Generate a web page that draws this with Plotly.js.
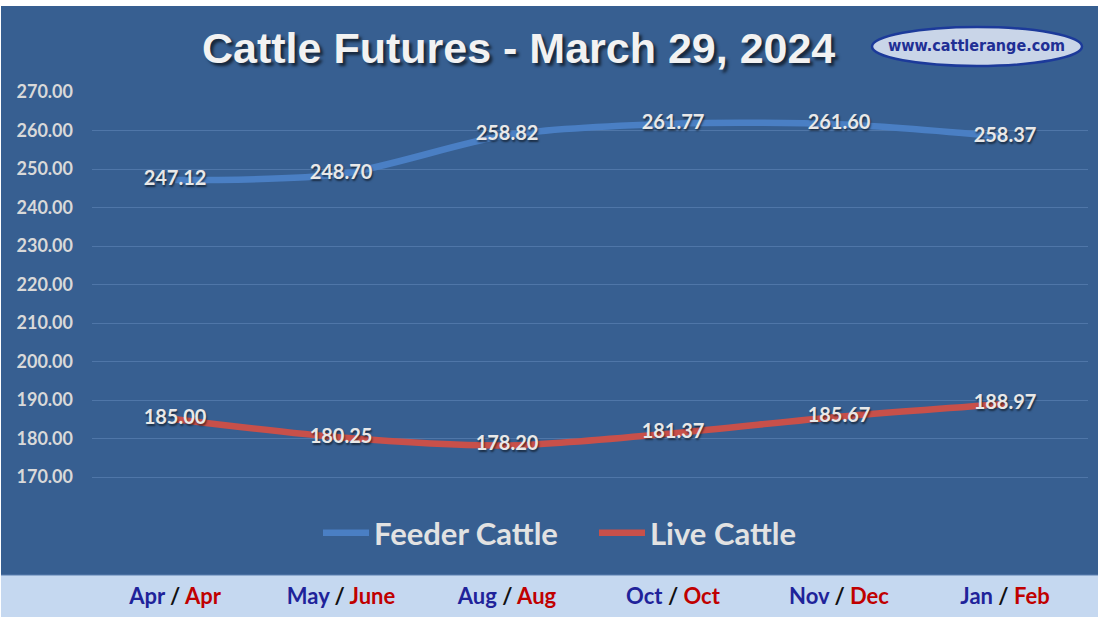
<!DOCTYPE html>
<html>
<head>
<meta charset="utf-8">
<script src="https://cdn.plot.ly/plotly-3.0.1.min.js"></script>
<style>
html,body{margin:0;padding:0;background:#ffffff;}
#chart{width:1104px;height:619px;}
</style>
</head>
<body>
<div id="chart"></div>
<script>
// ---- data ----
const categories = ["Apr / Apr", "May / June", "Aug / Aug", "Oct / Oct", "Nov / Dec", "Jan / Feb"];
const feederMonths = ["Apr", "May", "Aug", "Oct", "Nov", "Jan"];
const liveMonths = ["Apr", "June", "Aug", "Oct", "Dec", "Feb"];
const feederCattle = [247.12, 248.70, 258.82, 261.77, 261.60, 258.37];
const liveCattle = [185.00, 180.25, 178.20, 181.37, 185.67, 188.97];
const yTicks = [170, 180, 190, 200, 210, 220, 230, 240, 250, 260, 270];

// ---- geometry helpers (pixel -> paper) ----
const ML = 92, MR = 16, MT = 92, MB = 44;
const W = 1104, H = 619;
const PW = W - ML - MR, PH = H - MT - MB;
const px = x => (x - ML) / PW;
const py = y => (H - MB - y) / PH;

const tickText = categories.map((c, i) =>
  '<span style="color:#1F239A">' + feederMonths[i] + '</span>' +
  '<span style="color:#111111"> / </span>' +
  '<span style="color:#C00000">' + liveMonths[i] + '</span>');

const labelFont = {family: 'Lato, "Open Sans", sans-serif', size: 20, color: '#E8E8E8', weight: 'bold', shadow: '1px 2px 2px rgba(0,0,0,0.55)'};

const traces = [
  {
    x: categories, y: feederCattle, name: 'Feeder Cattle',
    mode: 'lines+text', type: 'scatter',
    line: {color: '#4A7FC4', width: 6.5, shape: 'spline', smoothing: 0.8},
    text: feederCattle.map(v => v.toFixed(2)),
    textposition: 'middle center', textfont: labelFont,
    hoverinfo: 'x+y'
  },
  {
    x: categories, y: liveCattle, name: 'Live Cattle',
    mode: 'lines+text', type: 'scatter',
    line: {color: '#C8504A', width: 6.5, shape: 'spline', smoothing: 0.8},
    text: liveCattle.map(v => v.toFixed(2)),
    textposition: 'middle center', textfont: labelFont,
    hoverinfo: 'x+y'
  }
];

// y range so that 170 sits at px 477 and 270 at px 92
const unitPx = (477 - 92) / 100;
const yMin = 170 - (H - MB - 477) / unitPx;

const layout = {
  width: W, height: H,
  margin: {l: ML, r: MR, t: MT, b: MB, pad: 0},
  paper_bgcolor: '#ffffff',
  plot_bgcolor: 'rgba(0,0,0,0)',
  showlegend: true,
  legend: {
    orientation: 'h', x: px(318), xanchor: 'left', y: py(533), yanchor: 'middle',
    font: {family: 'Lato, "Open Sans", sans-serif', size: 31, color: '#E2E2E2', weight: 'bold'},
    bgcolor: 'rgba(0,0,0,0)', itemwidth: 46, tracegroupgap: 0,
    entrywidth: 215, entrywidthmode: 'pixels'
  },
  xaxis: {
    type: 'category', range: [-0.5, 5.5],
    tickvals: categories, ticktext: tickText,
    showgrid: false, zeroline: false, showline: false, ticks: '',
    tickfont: {family: 'Lato, "Open Sans", sans-serif', size: 22, weight: 'bold'},
    ticklabelstandoff: 6, fixedrange: true
  },
  yaxis: {
    range: [yMin, 270], tickvals: yTicks, ticktext: yTicks.map(v => v.toFixed(2)),
    showgrid: true, gridcolor: '#4F76A8', gridwidth: 1,
    zeroline: false, showline: false, ticks: '',
    tickfont: {family: 'Lato, "Open Sans", sans-serif', size: 18, color: '#D9D9D9', weight: 'bold'},
    ticklabelstandoff: 18, fixedrange: true
  },
  shapes: [
    {type: 'rect', xref: 'paper', yref: 'paper', layer: 'below',
     x0: px(1), x1: px(1098), y0: py(575), y1: py(6),
     fillcolor: '#375F91', line: {width: 0}},
    {type: 'rect', xref: 'paper', yref: 'paper', layer: 'below',
     x0: px(1), x1: px(1098), y0: py(617), y1: py(575),
     fillcolor: '#C5D8F0', line: {width: 0}},
    {type: 'line', xref: 'paper', yref: 'paper', layer: 'below',
     x0: px(1), x1: px(1098), y0: py(575), y1: py(575),
     line: {color: '#5A7FAE', width: 1}},
    {type: 'circle', xref: 'paper', yref: 'paper', layer: 'above',
     x0: px(872), x1: px(1082), y0: py(66), y1: py(27),
     fillcolor: '#C9D5E8', line: {color: '#1C3A9A', width: 2.5}}
  ],
  annotations: [
    {xref: 'paper', yref: 'paper', x: px(518), y: py(48), xanchor: 'center', yanchor: 'middle',
     text: 'Cattle Futures - March 29, 2024', showarrow: false,
     font: {family: 'Liberation Sans, Arial, sans-serif', size: 43, color: '#F2F2F2', weight: 'bold',
            shadow: '3px 3px 3px rgba(0,0,0,0.6)'}},
    {xref: 'paper', yref: 'paper', x: px(976), y: py(46), xanchor: 'center', yanchor: 'middle',
     text: 'www.cattlerange.com', showarrow: false,
     font: {family: '"DejaVu Sans Condensed", "Liberation Sans Narrow", sans-serif', size: 16, color: '#1F2F95', weight: 'bold'}}
  ]
};

Plotly.newPlot('chart', traces, layout, {displayModeBar: false, staticPlot: true});
</script>
</body>
</html>
